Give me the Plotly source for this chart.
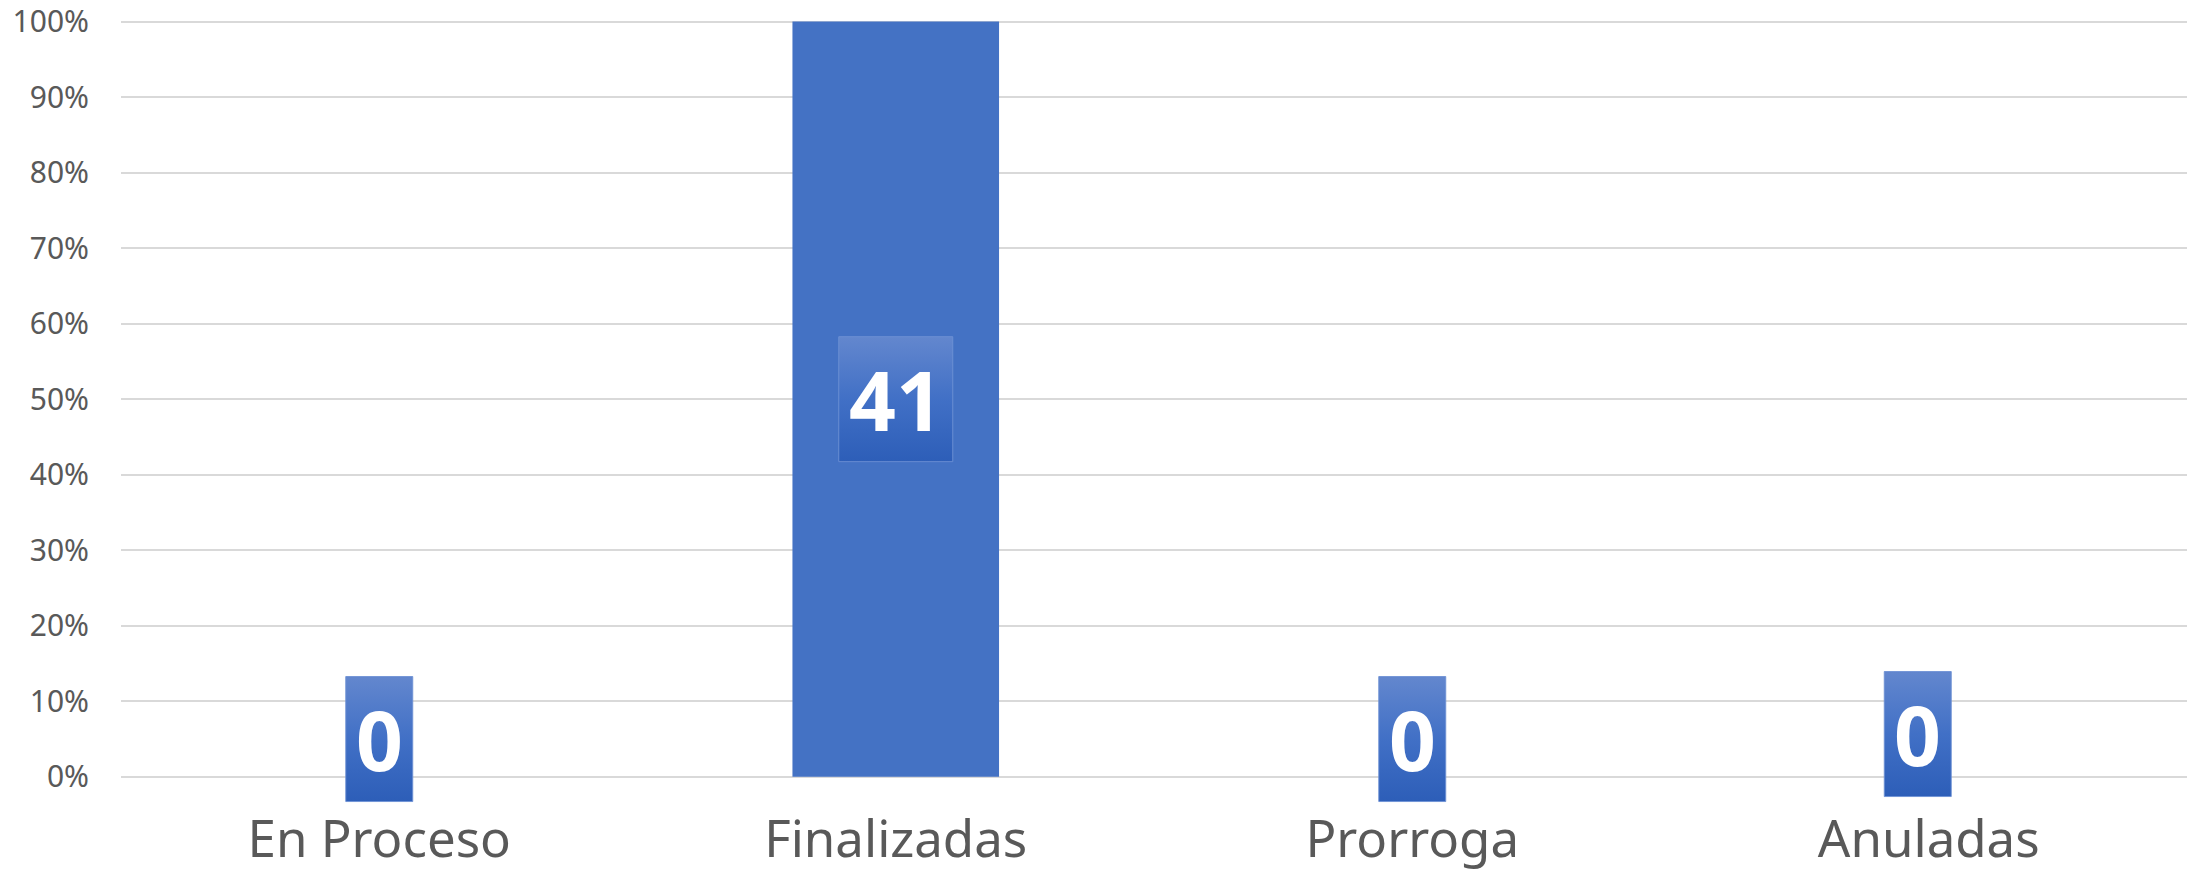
import plotly.graph_objects as go

# ---- data ----
categories = ["En Proceso", "Finalizadas", "Prorroga", "Anuladas"]
counts = [0, 41, 0, 0]
y_tick_values = [i / 10 for i in range(11)]
y_tick_labels = [f"{i * 10}%" for i in range(11)]

# ---- styles ----
BAR_COLOR = "#4472C4"
GRID_COLOR = "#D9D9D9"
TEXT_COLOR = "#595959"
W, H = 2190, 875
M_L, M_R, M_T, M_B = 121, 3, 20, 71
Y_RANGE = [-0.036, 1.002]
BAR_WIDTH = 0.4

plot_w = W - M_L - M_R
plot_h = H - M_T - M_B
px_per_x = plot_w / len(categories)
px_per_y = plot_h / (Y_RANGE[1] - Y_RANGE[0])

# label box geometry (pixels)
DIGIT_W = 47
BOX_PAD = 10
BOX_H = 125
ZERO_LABEL_Y = 0.05
nudges_px = {"Anuladas": (-11, -5)}

# 100% stacked shares (single series)
totals = [c for c in counts]
shares = [c / t if t else 0 for c, t in zip(counts, totals)]
xs = list(range(len(categories)))

fig = go.Figure()
fig.add_trace(go.Bar(
    x=xs, y=shares, width=BAR_WIDTH,
    marker=dict(color=BAR_COLOR, line=dict(width=0)),
    hoverinfo="skip", showlegend=False,
))

annotations = []
for x, cat, c, s in zip(xs, categories, counts, shares):
    txt = str(c)
    cy = s / 2 if s > 0 else ZERO_LABEL_Y
    dx_px, dy_px = nudges_px.get(cat, (0, 0))
    cx = x + dx_px / px_per_x
    cy = cy - dy_px / px_per_y
    hw = (len(txt) * DIGIT_W + 2 * BOX_PAD) / 2 / px_per_x
    hh = BOX_H / 2 / px_per_y
    fig.add_trace(go.Scatter(
        x=[cx - hw, cx + hw, cx + hw, cx - hw, cx - hw],
        y=[cy - hh, cy - hh, cy + hh, cy + hh, cy - hh],
        mode="lines", fill="toself",
        line=dict(color="rgba(110,145,212,0.9)", width=1),
        fillgradient=dict(type="vertical",
                          colorscale=[[0, "#2D5EB8"], [0.5, "#4170C6"], [1, "#6387CE"]]),
        hoverinfo="skip", showlegend=False,
    ))
    annotations.append(dict(
        x=cx, y=cy, xref="x", yref="y", text=txt, showarrow=False,
        font=dict(family="Noto Sans", size=82, color="white", weight="bold"),
        xanchor="center", yanchor="middle",
    ))

fig.update_layout(
    width=W, height=H,
    margin=dict(l=M_L, r=M_R, t=M_T, b=M_B, pad=0, autoexpand=False),
    paper_bgcolor="white", plot_bgcolor="white",
    annotations=annotations,
    showlegend=False,
    xaxis=dict(
        range=[-0.5, len(categories) - 0.5], automargin=False,
        tickmode="array", tickvals=xs, ticktext=categories,
        showgrid=False, zeroline=False, showline=False,
        ticks="", ticklabelstandoff=1,
        tickfont=dict(family="Noto Sans", size=51, color=TEXT_COLOR),
    ),
    yaxis=dict(
        range=Y_RANGE, automargin=False,
        tickmode="array", tickvals=y_tick_values, ticktext=y_tick_labels,
        showgrid=True, gridcolor=GRID_COLOR, gridwidth=1.5,
        zeroline=False, showline=False, ticks="",
        ticklabelstandoff=31,
        tickfont=dict(family="Noto Sans", size=30, color=TEXT_COLOR),
    ),
)

fig.write_html("out.html", config={"displayModeBar": False},
               post_script="document.body.style.margin='0';")
